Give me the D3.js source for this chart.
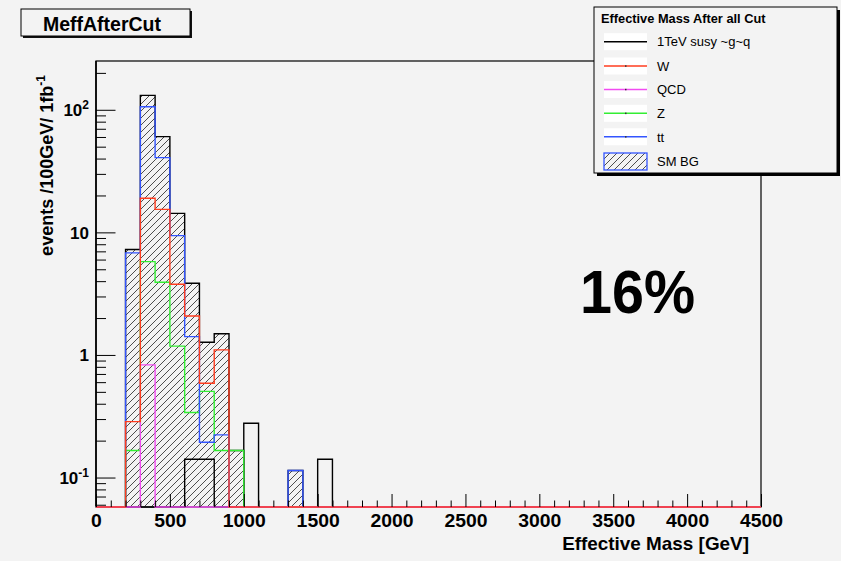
<!DOCTYPE html>
<html><head><meta charset="utf-8">
<script src="https://cdn.jsdelivr.net/npm/d3@7"></script>
<style>body{margin:0;background:#f3f3f3} svg{display:block}</style>
</head><body><svg id="c" width="841" height="561"></svg>
<script>
// ---------- data (100 GeV bins, lower edges) ----------
const binLow  = [200, 300, 400, 500, 600, 700, 800, 900, 1000, 1100, 1200, 1300, 1400, 1500];
const smBG    = [7.25, 131, 60.4, 14.3, 3.85, 1.27, 1.49, 0.166, 0, 0, 0, 0.114, 0, 0];
const signal  = [0, 0, 0, 0, 0.141, 0.141, 0, 0, 0.277, 0, 0, 0, 0, 0.141];
const wVals   = [0.286, 19, 15.4, 3.77, 2.08, 0.587, 1.1, 0, 0, 0, 0, 0, 0, 0];
const qcdVals = [0, 0.83, 0, 0, 0, 0, 0, 0, 0, 0, 0, 0, 0, 0];
const zVals   = [0.166, 5.77, 3.92, 1.18, 0.339, 0.505, 0.166, 0.166, 0, 0, 0, 0, 0, 0];
const ttVals  = [6.8, 106, 40.7, 9.4, 1.41, 0.194, 0.223, 0, 0, 0, 0, 0.114, 0, 0];
const binWidth = 100;
const xMajor = [0, 500, 1000, 1500, 2000, 2500, 3000, 3500, 4000, 4500];
const yMajor = [0.1, 1, 10, 100];
const yLabelBase = ["10", "1", "10", "10"];
const yLabelSup  = ["-1", "", "", "2"];
const legendNames = ["1TeV susy ~g~q", "W", "QCD", "Z", "tt", "SM BG"];
const titleText = "MeffAfterCut";
const legendTitle = "Effective Mass After all Cut";
const xTitle = "Effective Mass [GeV]";
const yTitle = "events /100GeV/ 1fb";
const annotation = "16%";

// ---------- layout ----------
const W = 841, H = 561;
const F = {l: 96, r: 761, t: 61, b: 507};
const bg = "#f3f3f3";
const col = {sig: "#000000", W: "#ff3d1f", QCD: "#f24cf2", Z: "#33ee33", tt: "#3355ff", bg: "#000000"};
const font = "'Liberation Sans', Arial, Helvetica, sans-serif";

const svg = d3.select("#c");
svg.append("rect").attr("width", W).attr("height", H).attr("fill", bg);

const defs = svg.append("defs");
const pat = defs.append("pattern").attr("id", "hatch").attr("patternUnits", "userSpaceOnUse")
  .attr("width", 7).attr("height", 7);
pat.append("path").attr("d", "M0,7 L7,0 M-1,1 L1,-1 M6,8 L8,6")
  .attr("stroke", "#3a3a3a").attr("stroke-width", 0.9);

const x = d3.scaleLinear().domain([0, 4500]).range([F.l, F.r]);
const y = d3.scaleLog().domain([0.0575, 250]).range([F.b, F.t]);
const yc = v => v > 0 ? Math.max(F.t, Math.min(F.b, y(v))) : F.b;

// ---------- frame ----------
svg.append("rect").attr("x", F.l).attr("y", F.t).attr("width", F.r - F.l).attr("height", F.b - F.t)
  .attr("fill", "none").attr("stroke", "#000").attr("stroke-width", 1.2);

// ---------- histograms ----------
const plot = svg.append("g");
plot.selectAll("rect.fill").data(binLow.map((b, i) => ({b, v: smBG[i]})).filter(d => d.v > 0))
  .join("rect").attr("class", "fill")
  .attr("x", d => x(d.b)).attr("width", d => x(d.b + binWidth) - x(d.b))
  .attr("y", d => yc(d.v)).attr("height", d => F.b - yc(d.v))
  .attr("fill", "url(#hatch)");

function outline(vals) {
  const pts = [[x(0), F.b]];
  d3.range(0, 4500, binWidth).forEach(lo => {
    const i = binLow.indexOf(lo);
    const v = i >= 0 ? vals[i] : 0;
    pts.push([x(lo), yc(v)], [x(lo + binWidth), yc(v)]);
  });
  pts.push([x(4500), F.b]);
  return d3.line()(pts);
}
const series = [
  {vals: smBG, c: col.bg},
  {vals: signal, c: col.sig},
  {vals: zVals, c: col.Z},
  {vals: ttVals, c: col.tt},
  {vals: qcdVals, c: col.QCD},
  {vals: wVals, c: col.W}
];
series.forEach(s => {
  plot.append("path").attr("d", outline(s.vals)).attr("fill", "none")
    .attr("stroke", s.c).attr("stroke-width", 1.4).attr("stroke-linejoin", "miter");
});

// ---------- axes ----------
const xMinor = d3.range(0, 4501, 100).filter(v => !xMajor.includes(v));
const gx = svg.append("g").attr("transform", `translate(0,${F.b})`);
gx.append("g").call(d3.axisBottom(x).tickValues(xMinor).tickSize(-6.5).tickFormat(""))
  .call(g => g.select(".domain").remove());
gx.append("g").call(d3.axisBottom(x).tickValues(xMajor).tickSize(-13).tickFormat(d => d))
  .call(g => g.select(".domain").remove())
  .call(g => g.selectAll("text").attr("y", 6.5).attr("dy", "0.71em")
      .attr("transform", "scale(1.02,1)").attr("fill", "#000")
      .style("font", `bold 19px ${font}`));
gx.selectAll("line").attr("stroke", "#000").attr("stroke-width", 1);

const yMinor = [];
[0.01, 0.1, 1, 10, 100].forEach(d => d3.range(2, 10).forEach(m => {
  const v = d * m; if (v >= 0.0575 && v <= 250) yMinor.push(v);
}));
const gy = svg.append("g").attr("transform", `translate(${F.l},0)`);
gy.append("g").call(d3.axisLeft(y).tickValues(yMinor).tickSize(-10).tickFormat(""))
  .call(g => g.select(".domain").remove());
gy.append("g").call(d3.axisLeft(y).tickValues(yMajor).tickSize(-19.5).tickFormat(""))
  .call(g => g.select(".domain").remove());
gy.selectAll("line").attr("stroke", "#000").attr("stroke-width", 1);
svg.append("line").attr("x1", F.l).attr("x2", F.l).attr("y1", F.t).attr("y2", F.b - 0.7)
  .attr("stroke", "#000").attr("stroke-width", 1.6);

// y tick labels
yMajor.forEach((v, i) => {
  const t = svg.append("text").attr("x", 89).attr("y", y(v) + 6.5)
    .attr("text-anchor", "end").style("font", `bold 17px ${font}`).attr("fill", "#000");
  t.append("tspan").text(yLabelBase[i]);
  if (yLabelSup[i]) t.append("tspan").attr("dy", -7.5).style("font-size", "12px").text(yLabelSup[i]);
});

// axis titles
svg.append("text").attr("transform", "translate(749,549.5) scale(1.08,1)")
  .attr("text-anchor", "end").style("font", `bold 17.5px ${font}`).text(xTitle);
const yt = svg.append("text").attr("transform", "translate(53,165.5) rotate(-90)")
  .attr("text-anchor", "middle").style("font", `bold 18px ${font}`);
yt.append("tspan").text(yTitle);
yt.append("tspan").attr("dy", -8).style("font-size", "12px").text("-1");

// ---------- title box ----------
svg.append("rect").attr("x", 23).attr("y", 11).attr("width", 169).attr("height", 27).attr("fill", "#111");
svg.append("rect").attr("x", 21).attr("y", 9).attr("width", 169).attr("height", 27)
  .attr("fill", bg).attr("stroke", "#000").attr("stroke-width", 1);
svg.append("text").attr("x", 102).attr("y", 30.5).attr("text-anchor", "middle")
  .style("font", `bold 19.5px ${font}`).text(titleText);

// ---------- legend ----------
const L = {x: 594, y: 7, w: 243, h: 166};
svg.append("rect").attr("x", L.x + 3).attr("y", L.y + 3).attr("width", L.w).attr("height", L.h).attr("fill", "#000");
svg.append("rect").attr("x", L.x).attr("y", L.y).attr("width", L.w).attr("height", L.h)
  .attr("fill", bg).attr("stroke", "#000").attr("stroke-width", 1);
svg.append("text").attr("x", 601).attr("y", 23).style("font", `bold 12.8px ${font}`).text(legendTitle);
const legColors = [col.sig, col.W, col.QCD, col.Z, col.tt];
const legY = [41.7, 66, 89.5, 113.3, 136.8, 161.5];
legendNames.forEach((name, i) => {
  const cy = legY[i];
  if (i < 5) {
    svg.append("rect").attr("x", 604).attr("y", cy - 8.5).attr("width", 43).attr("height", 17).attr("fill", "#fff");
    svg.append("line").attr("x1", 604).attr("x2", 647).attr("y1", cy).attr("y2", cy)
      .attr("stroke", legColors[i]).attr("stroke-width", 1.4);
    if (i > 0) svg.append("rect").attr("x", 625).attr("y", cy - 0.7).attr("width", 1.5).attr("height", 1.5).attr("fill", "#333");
  } else {
    svg.append("rect").attr("x", 604).attr("y", cy - 8.5).attr("width", 43).attr("height", 17)
      .attr("fill", "url(#hatch)").attr("stroke", col.tt).attr("stroke-width", 1.3);
  }
  svg.append("text").attr("x", 657).attr("y", cy + 4.7).style("font", `13px ${font}`).text(name);
});

// ---------- annotation ----------
svg.append("text").attr("x", 580).attr("y", 313).attr("textLength", 115).attr("lengthAdjust", "spacingAndGlyphs")
  .style("font", `bold 62px ${font}`).text(annotation);
</script></body></html>
